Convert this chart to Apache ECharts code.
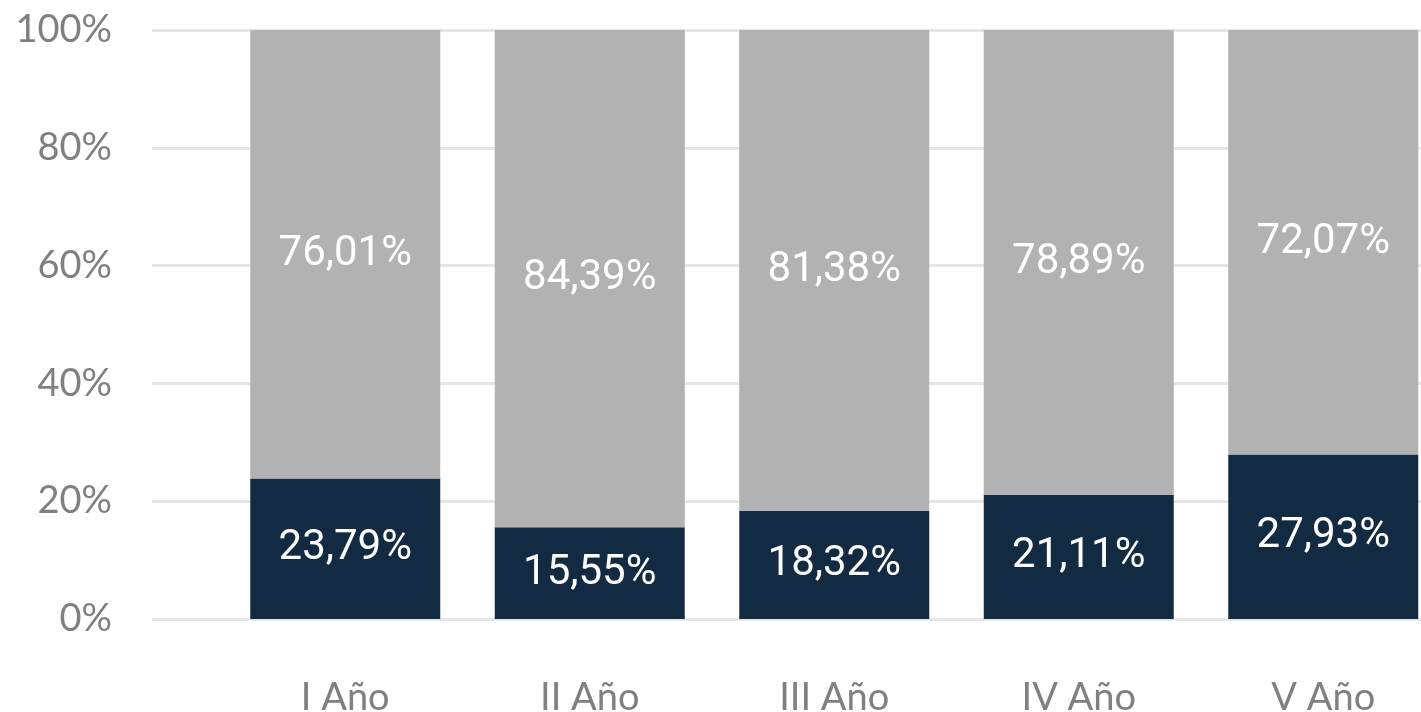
<!DOCTYPE html>
<html>
<head>
<meta charset="utf-8">
<script src="https://cdn.jsdelivr.net/npm/echarts@6/dist/echarts.min.js"></script>
<style>
  html, body { margin: 0; padding: 0; background: #fff; }
  #chart-container { width: 1421px; height: 712px; }
</style>
</head>
<body>
<div id="chart-container"></div>
<script>
var categories = ["I Año", "II Año", "III Año", "IV Año", "V Año"];
var darkValues = [23.79, 15.55, 18.32, 21.11, 27.93];
var grayValues = [76.01, 84.39, 81.38, 78.89, 72.07];
var yTicks = [0, 20, 40, 60, 80, 100];

// 100% stacked: scale each column to its own total
var totals = darkValues.map(function (v, i) { return v + grayValues[i]; });
function share(arr) {
  return arr.map(function (v, i) {
    return { value: v / totals[i] * 100, raw: v };
  });
}
function fmt(p) {
  return p.data.raw.toFixed(2).replace(".", ",") + "%";
}

var dom = document.getElementById("chart-container");
var myChart = echarts.init(dom, null, { renderer: "canvas" });

var option = {
  backgroundColor: "#ffffff",
  animation: false,
  grid: [
    // grid for gridlines + y labels
    { left: 152, right: 0, top: 30, bottom: 93, outerBoundsMode: "none", containLabel: false },
    // grid for the bars (bands run off the right edge)
    { left: 223, width: 1222.5, top: 30, bottom: 93, outerBoundsMode: "none", containLabel: false }
  ],
  xAxis: [
    { type: "category", gridIndex: 0, data: categories, show: false },
    {
      type: "category",
      gridIndex: 1,
      data: categories,
      axisLine: { show: false },
      axisTick: { show: false },
      axisLabel: {
        color: "#808080",
        fontFamily: "Lato",
        fontSize: 38,
        margin: 60
      }
    }
  ],
  yAxis: [
    {
      type: "value",
      gridIndex: 0,
      min: yTicks[0],
      max: yTicks[yTicks.length - 1],
      interval: 20,
      axisLine: { show: false },
      axisTick: { show: false },
      splitLine: { lineStyle: { color: "#e6e6e6", width: 3 } },
      axisLabel: {
        formatter: "{value}%",
        color: "#808080",
        fontFamily: "Lato",
        fontSize: 38,
        margin: 40
      }
    },
    {
      type: "value",
      gridIndex: 1,
      min: 0,
      max: 100,
      interval: 20,
      show: false
    }
  ],
  series: [
    {
      name: "dark",
      type: "bar",
      xAxisIndex: 1,
      yAxisIndex: 1,
      stack: "total",
      barWidth: 190,
      data: share(darkValues),
      itemStyle: { color: "#132b42" },
      label: {
        show: true,
        position: "inside",
        formatter: fmt,
        color: "#ffffff",
        fontFamily: "Roboto",
        fontSize: 42
      }
    },
    {
      name: "gray",
      type: "bar",
      xAxisIndex: 1,
      yAxisIndex: 1,
      stack: "total",
      barWidth: 190,
      data: share(grayValues),
      itemStyle: { color: "#b2b2b2" },
      label: {
        show: true,
        position: "inside",
        formatter: fmt,
        color: "#ffffff",
        fontFamily: "Roboto",
        fontSize: 42
      }
    }
  ]
};

myChart.setOption(option);
window.addEventListener("resize", myChart.resize);
</script>
</body>
</html>
